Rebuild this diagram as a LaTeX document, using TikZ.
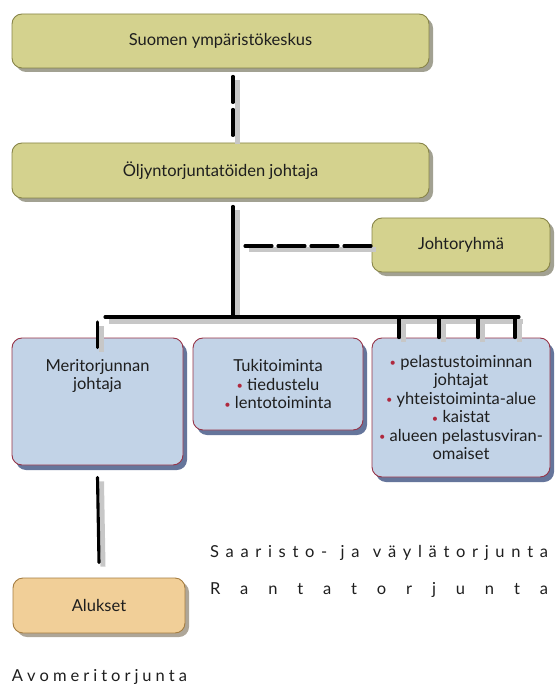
\documentclass[tikz,border=0pt]{standalone}
\usepackage{fontspec}
\setmainfont{Lato}
\usetikzlibrary{shadows}

\definecolor{olivebox}{RGB}{212,210,142}
\definecolor{oliveline}{RGB}{135,132,72}
\definecolor{bluebox}{RGB}{194,211,231}
\definecolor{redline}{RGB}{150,52,72}
\definecolor{tanbox}{RGB}{241,207,152}
\definecolor{tanline}{RGB}{165,125,65}
\definecolor{dotred}{RGB}{175,40,62}
\definecolor{ink}{RGB}{30,30,30}
\definecolor{blueshade}{RGB}{62,82,130}

\newcommand{\bul}{{\color{dotred}\raisebox{.5pt}{\fontsize{11}{11}\selectfont\textbullet}}\ }

\tikzset{
  box/.style={rounded corners=10pt, line width=.9pt, align=center, text=ink,
    font=\fontsize{16.5}{18.5}\selectfont},
  greenbox/.style={box, draw=oliveline, fill=olivebox,
    drop shadow={shadow xshift=4pt, shadow yshift=-4pt, fill=black!60!olivebox, opacity=.55}},
  bluebox/.style={box, draw=redline, fill=bluebox,
    drop shadow={shadow xshift=4pt, shadow yshift=-5pt, fill=blueshade, opacity=.8}},
  tanbox/.style={box, draw=tanline, fill=tanbox,
    drop shadow={shadow xshift=4pt, shadow yshift=-4pt, fill=black!55!tanbox, opacity=.55}},
  link/.style={line width=3.1pt, line cap=round, draw=black,
    preaction={draw=black!22, line width=5pt, transform canvas={xshift=4pt, yshift=-4pt}}},
  spaced/.style={text=ink, font=\fontsize{16.5}{18}\selectfont, inner sep=0pt},
}

\begin{document}
\begin{tikzpicture}[x=1pt, y=-1pt]
\useasboundingbox (0,0) rectangle (554,684);

% boxes
\node[greenbox, minimum width=417pt, minimum height=54pt] (suomen) at (220.5,41) {Suomen ympäristökeskus};
\node[greenbox, minimum width=417pt, minimum height=55pt] (oljy) at (220.5,170.5) {Öljyntorjuntatöiden johtaja};
\node[greenbox, minimum width=178pt, minimum height=54pt] (johto) at (461,245) {Johtoryhmä};

\node[bluebox, minimum width=171pt, minimum height=127pt] (meri) at (97.5,401.5) {Meritorjunnan\\johtaja\\[36pt]~};
\node[bluebox, minimum width=170pt, minimum height=92pt] (tuki) at (278,384) {Tukitoiminta\\\bul tiedustelu\\\bul lentotoiminta};
\node[bluebox, minimum width=178pt, minimum height=139pt] (pelastus) at (461,407.5)
  {\bul pelastustoiminnan\\johtajat\\\bul yhteistoiminta-alue\\\bul kaistat\\\bul alueen pelastusviran-\\omaiset};

\node[tanbox, minimum width=172pt, minimum height=55pt] (alukset) at (99,605.5) {Alukset};

% connectors
\coordinate (trunk) at (233,317);
\coordinate (barL) at (105,317);
\coordinate (barR) at (519,317);
\coordinate (branch) at (245,246);

\draw[link, dash pattern=on 26pt off 7pt, shorten <=8pt, shorten >=3pt] (suomen.south -| trunk) -- (oljy.north -| trunk);
\draw[link] (oljy.south -| trunk) ++(0,8) -- (trunk);
\draw[link, dash pattern=on 27pt off 6pt] (branch) -- (johto.west |- branch);
\draw[link] (barL) -- (barR);

\draw[link] ([yshift=-5pt]meri.north |- barL) -- ([yshift=-10pt]meri.north);
\foreach \x in {399,439,478,515}
  \draw[link] (barL -| \x,0) -- (pelastus.north -| \x,0);

\draw[link] ([yshift=-12pt]meri.south) -- ([yshift=15pt]alukset.north);

% area labels
\node[spaced] (saaristo) at (379,553) {\makebox[338pt][s]{S a a r i s t o - {} j a {} v ä y l ä t o r j u n t a}};
\node[spaced] (ranta) at (379,590) {\makebox[338pt][s]{R a n t a t o r j u n t a}};
\node[spaced] (avomeri) at (99.5,677) {\makebox[175pt][s]{A v o m e r i t o r j u n t a}};
\end{tikzpicture}
\end{document}
